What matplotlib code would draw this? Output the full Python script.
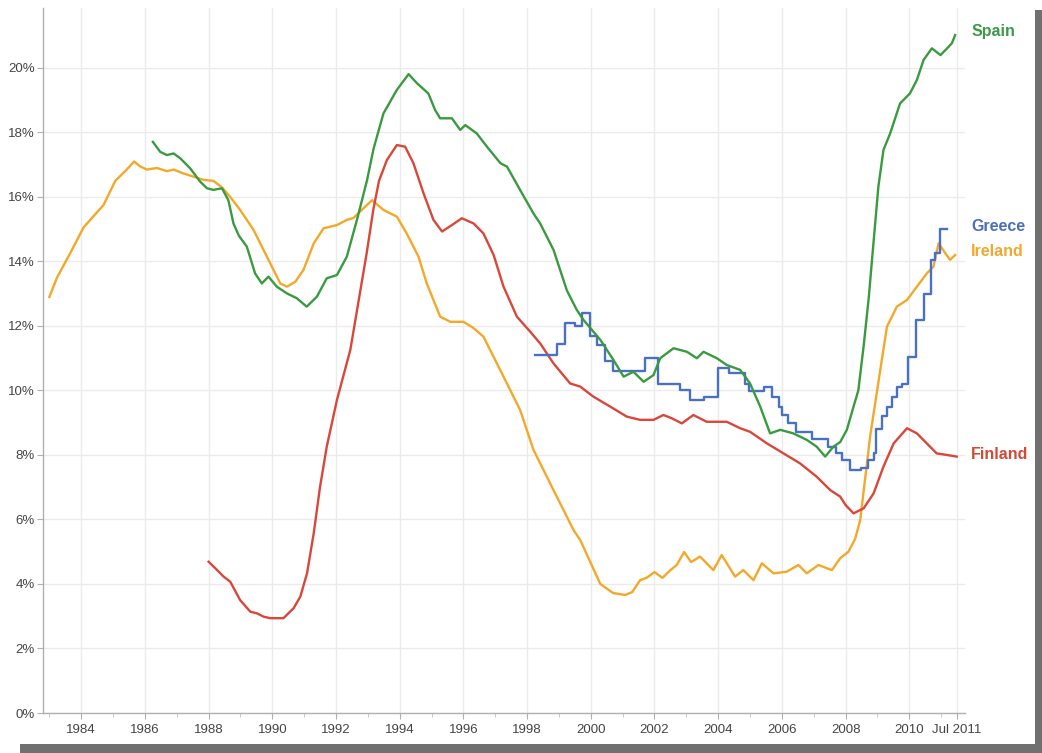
import matplotlib
matplotlib.use("Agg")
import matplotlib.pyplot as plt
from matplotlib.patches import Rectangle

plt.rcParams['font.family'] = ['Liberation Sans', 'DejaVu Sans']

# ---------------- data ----------------
ireland_t = [1983.0, 1983.24, 1983.65, 1984.07, 1984.38, 1984.7, 1985.07, 1985.43, 1985.66, 1985.85,
             1986.06, 1986.38, 1986.69, 1986.9, 1987.21, 1987.53, 1987.84, 1988.15, 1988.42, 1988.68,
             1988.99, 1989.41, 1989.83, 1990.25, 1990.46, 1990.72, 1990.98, 1991.3, 1991.61, 1992.03,
             1992.34, 1992.55, 1992.81, 1993.13, 1993.49, 1993.91, 1994.22, 1994.59, 1994.85, 1995.27,
             1995.59, 1996.0, 1996.3, 1996.63, 1997.26, 1997.78, 1998.2, 1998.83, 1999.46, 1999.67,
             2000.3, 2000.7, 2001.08, 2001.3, 2001.55, 2001.75, 2002.0, 2002.25, 2002.5, 2002.7,
             2002.93, 2003.15, 2003.43, 2003.85, 2004.11, 2004.53, 2004.79, 2005.11, 2005.37, 2005.74,
             2006.15, 2006.52, 2006.78, 2007.15, 2007.57, 2007.83, 2008.09, 2008.3, 2008.46, 2008.77,
             2009.09, 2009.3, 2009.61, 2009.93, 2010.24, 2010.55, 2010.76, 2010.92, 2011.13, 2011.28,
             2011.44]
ireland_v = [12.9, 13.5, 14.25, 15.05, 15.4, 15.75, 16.5, 16.85, 17.1, 16.95,
             16.85, 16.9, 16.8, 16.85, 16.73, 16.63, 16.53, 16.5, 16.3, 16.0,
             15.6, 14.98, 14.15, 13.32, 13.22, 13.37, 13.74, 14.56, 15.03, 15.13,
             15.29, 15.35, 15.6, 15.9, 15.6, 15.39, 14.87, 14.15, 13.32, 12.29,
             12.13, 12.13, 11.95, 11.67, 10.43, 9.4, 8.16, 6.91, 5.67, 5.36,
             4.0, 3.72, 3.66, 3.75, 4.12, 4.19, 4.37, 4.19, 4.43, 4.59,
             4.99, 4.68, 4.85, 4.43, 4.9, 4.23, 4.43, 4.12, 4.64, 4.33,
             4.38, 4.59, 4.33, 4.59, 4.43, 4.8, 5.0, 5.4, 5.98, 8.57,
             10.64, 11.98, 12.6, 12.81, 13.22, 13.63, 13.84, 14.56, 14.26, 14.05,
             14.2]

spain_t = [1986.25, 1986.48, 1986.69, 1986.9, 1987.11, 1987.42, 1987.74, 1987.95, 1988.15, 1988.42,
           1988.62, 1988.78, 1988.95, 1989.2, 1989.46, 1989.67, 1989.88, 1990.14, 1990.46, 1990.77,
           1991.08, 1991.4, 1991.71, 1992.03, 1992.34, 1992.66, 1992.97, 1993.18, 1993.49, 1993.91,
           1994.28, 1994.54, 1994.9, 1995.11, 1995.27, 1995.64, 1995.9, 1996.06, 1996.42, 1996.74,
           1997.16, 1997.37, 1997.78, 1998.2, 1998.41, 1998.83, 1999.25, 1999.56, 1999.77, 2000.3,
           2000.71, 2001.03, 2001.34, 2001.66, 2001.97, 2002.18, 2002.6, 2003.02, 2003.33, 2003.54,
           2003.96, 2004.27, 2004.69, 2005.0, 2005.32, 2005.63, 2005.95, 2006.36, 2006.78, 2007.09,
           2007.36, 2007.62, 2007.83, 2008.04, 2008.25, 2008.4, 2008.57, 2008.73, 2008.83, 2009.03,
           2009.19, 2009.4, 2009.71, 2010.02, 2010.24, 2010.45, 2010.71, 2010.98, 2011.19, 2011.34,
           2011.44]
spain_v = [17.71, 17.4, 17.3, 17.35, 17.2, 16.89, 16.47, 16.27, 16.22, 16.27,
           15.9, 15.18, 14.8, 14.46, 13.63, 13.32, 13.53, 13.22, 13.01, 12.86,
           12.6, 12.91, 13.48, 13.58, 14.15, 15.3, 16.5, 17.5, 18.59, 19.32,
           19.81, 19.53, 19.21, 18.7, 18.44, 18.44, 18.08, 18.23, 17.97, 17.56,
           17.05, 16.94, 16.22, 15.49, 15.18, 14.36, 13.1, 12.5, 12.19, 11.57,
           10.95, 10.43, 10.58, 10.27, 10.48, 11.0, 11.31, 11.2, 11.0, 11.2,
           11.0, 10.79, 10.64, 10.22, 9.5, 8.67, 8.78, 8.67, 8.47, 8.26,
           7.95, 8.26, 8.4, 8.78, 9.5, 10.0, 11.4, 12.9, 14.05, 16.32,
           17.46, 17.97, 18.9, 19.21, 19.63, 20.25, 20.61, 20.4, 20.61, 20.77,
           21.02]

finland_t = [1988.0, 1988.25, 1988.47, 1988.68, 1988.99, 1989.31, 1989.52, 1989.72, 1989.93, 1990.35,
             1990.67, 1990.88, 1991.09, 1991.3, 1991.5, 1991.71, 1992.03, 1992.45, 1992.97, 1993.17,
             1993.35, 1993.6, 1993.91, 1994.17, 1994.43, 1994.75, 1995.06, 1995.33, 1995.64, 1995.95,
             1996.32, 1996.63, 1996.95, 1997.26, 1997.68, 1998.1, 1998.41, 1998.83, 1999.35, 1999.67,
             2000.08, 2000.61, 2001.13, 2001.55, 2001.97, 2002.28, 2002.54, 2002.86, 2003.22, 2003.64,
             2004.27, 2004.69, 2005.0, 2005.53, 2006.05, 2006.57, 2007.09, 2007.52, 2007.83, 2008.0,
             2008.25, 2008.57, 2008.88, 2009.19, 2009.51, 2009.93, 2010.24, 2010.55, 2010.86, 2011.19,
             2011.49]
finland_v = [4.69, 4.45, 4.23, 4.07, 3.5, 3.14, 3.09, 2.99, 2.94, 2.94,
             3.25, 3.61, 4.33, 5.57, 7.02, 8.26, 9.71, 11.26, 14.3, 15.6,
             16.5, 17.15, 17.61, 17.56, 17.05, 16.11, 15.29, 14.93, 15.13, 15.34,
             15.18, 14.87, 14.2, 13.22, 12.29, 11.82, 11.46, 10.84, 10.22, 10.12,
             9.81, 9.5, 9.19, 9.09, 9.09, 9.24, 9.14, 8.98, 9.24, 9.03,
             9.03, 8.83, 8.72, 8.36, 8.05, 7.74, 7.33, 6.91, 6.71, 6.45,
             6.19, 6.35, 6.81, 7.64, 8.36, 8.83, 8.67, 8.36, 8.05, 8.0,
             7.95]

greece_t = [1998.25, 1998.95, 1999.2, 1999.5, 1999.72, 1999.97, 2000.2, 2000.45, 2000.7, 2001.7,
            2002.12, 2002.8, 2003.1, 2003.55, 2003.98, 2004.35, 2004.85, 2004.97, 2005.45, 2005.7,
            2005.9, 2006.0, 2006.2, 2006.45, 2006.95, 2007.45, 2007.7, 2007.9, 2008.15, 2008.5,
            2008.7, 2008.9, 2008.97, 2009.15, 2009.3, 2009.45, 2009.62, 2009.78, 2009.95, 2010.2,
            2010.45, 2010.68, 2010.82, 2010.98, 2011.17]
greece_v = [11.1, 11.45, 12.1, 12.0, 12.4, 11.7, 11.4, 10.9, 10.6, 11.0,
            10.2, 10.0, 9.7, 9.8, 10.7, 10.55, 10.2, 9.97, 10.1, 9.8,
            9.5, 9.25, 9.0, 8.7, 8.5, 8.25, 8.05, 7.85, 7.55, 7.6,
            7.85, 8.05, 8.8, 9.2, 9.5, 9.8, 10.1, 10.2, 11.05, 12.2,
            13.0, 14.05, 14.25, 15.0, 15.0]

x_tick_pos = [1984, 1986, 1988, 1990, 1992, 1994, 1996, 1998, 2000, 2002, 2004, 2006, 2008, 2010, 2011.5]
x_tick_lab = ['1984', '1986', '1988', '1990', '1992', '1994', '1996', '1998', '2000', '2002',
              '2004', '2006', '2008', '2010', 'Jul 2011']
y_tick_pos = [0, 2, 4, 6, 8, 10, 12, 14, 16, 18, 20]
y_tick_lab = ['0%', '2%', '4%', '6%', '8%', '10%', '12%', '14%', '16%', '18%', '20%']

colors = {'Spain': '#3a9a3f', 'Greece': '#4a70c4', 'Ireland': '#f4a82a', 'Finland': '#d8473a'}
text_colors = {'Spain': '#3c9a48', 'Greece': '#4d6fb8', 'Ireland': '#f0a830', 'Finland': '#d04a3a'}

# ---------------- figure ----------------
W, H = 1042, 753
fig = plt.figure(figsize=(W / 100, H / 100), dpi=100)
fig.patch.set_facecolor('white')
ax = fig.add_axes([43 / W, 1 - 713 / H, (965 - 43) / W, (713 - 8) / H])

ax.set_xlim(1982.8, 2011.75)
ax.set_ylim(0, 21.86)

ax.set_xticks(x_tick_pos)
ax.set_xticklabels(x_tick_lab)
ax.set_xticks(list(range(1983, 2012)), minor=True)
ax.set_yticks(y_tick_pos)
ax.set_yticklabels(y_tick_lab)

for s in ['top', 'right']:
    ax.spines[s].set_visible(False)
for s in ['left', 'bottom']:
    ax.spines[s].set_color('#b0b0b0')
    ax.spines[s].set_linewidth(1.0)

ax.tick_params(axis='x', which='major', length=4, color='#b0b0b0', labelsize=9.5,
               labelcolor='#444444', pad=4)
ax.tick_params(axis='x', which='minor', length=3, color='#c0c0c0')
ax.tick_params(axis='y', which='major', length=4, color='#b0b0b0', labelsize=9.5,
               labelcolor='#444444', pad=2)

ax.grid(True, which='major', color='#ebebeb', linewidth=1.0)
ax.set_axisbelow(True)

lw = 1.7
ax.plot(ireland_t, ireland_v, color=colors['Ireland'], lw=lw, zorder=3)
ax.plot(finland_t, finland_v, color=colors['Finland'], lw=lw, zorder=3)
ax.plot(greece_t, greece_v, color=colors['Greece'], lw=lw, drawstyle='steps-post', zorder=4)
ax.plot(spain_t, spain_v, color=colors['Spain'], lw=lw, zorder=5)

label_x = 2011.95
ax.text(label_x, spain_v[-1] + 0.1, 'Spain', color=text_colors['Spain'], fontsize=11.5,
        fontweight='bold', va='center', ha='left', clip_on=False)
ax.text(label_x, greece_v[-1] + 0.1, 'Greece', color=text_colors['Greece'], fontsize=11.5,
        fontweight='bold', va='center', ha='left', clip_on=False)
ax.text(label_x, ireland_v[-1] + 0.1, 'Ireland', color=text_colors['Ireland'], fontsize=11.5,
        fontweight='bold', va='center', ha='left', clip_on=False)
ax.text(label_x, finland_v[-1] + 0.05, 'Finland', color=text_colors['Finland'], fontsize=11.5,
        fontweight='bold', va='center', ha='left', clip_on=False)

# grey drop-shadow frame (right and bottom)
fig.add_artist(Rectangle((1035 / W, 0), 7 / W, 1 - 10 / H, transform=fig.transFigure,
                         facecolor='#707070', edgecolor='none'))
fig.add_artist(Rectangle((20 / W, 0), 1 - 20 / W, 9 / H, transform=fig.transFigure,
                         facecolor='#707070', edgecolor='none'))

fig.savefig('out.png', dpi=100, facecolor='white')
